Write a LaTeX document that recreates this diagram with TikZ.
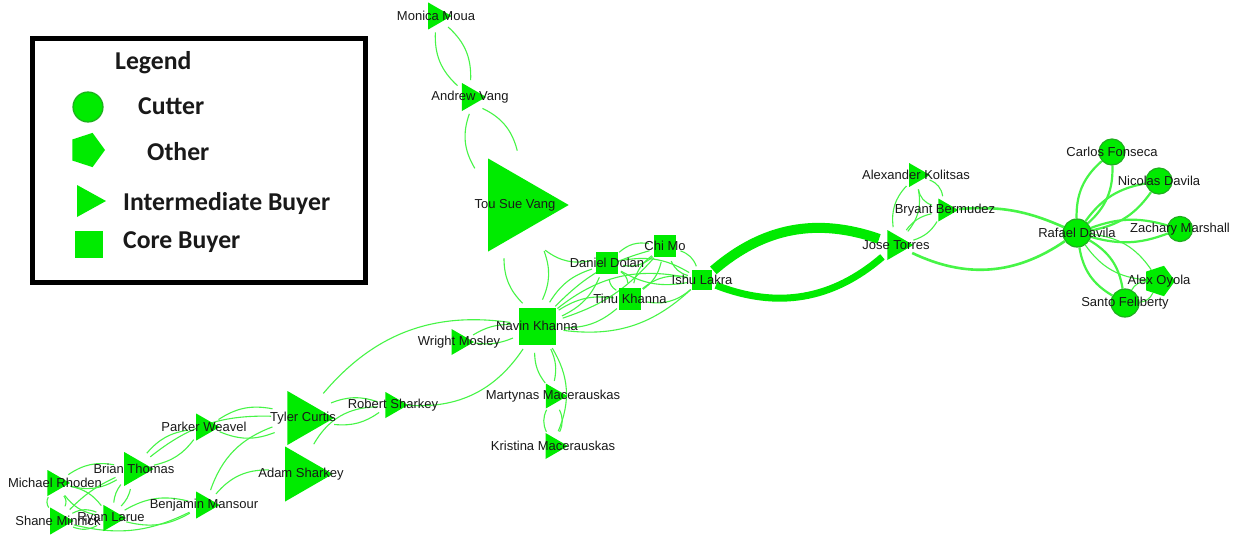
\documentclass[tikz,border=0pt]{standalone}
\usepackage{fontspec}
\setmainfont{Liberation Sans}
\newfontfamily\legendfont{Carlito}
\usetikzlibrary{shapes.geometric}
\definecolor{nodegreen}{RGB}{0,235,0}
\definecolor{edgegreen}{RGB}{70,245,70}
\definecolor{rimgreen}{RGB}{30,175,30}
\definecolor{labelgray}{RGB}{25,25,25}
\pgfdeclarelayer{edges}
\pgfdeclarelayer{labels}
\pgfsetlayers{edges,main,labels}
\tikzset{
  lbl/.style={font=\fontsize{13}{14}\selectfont, text=labelgray, inner sep=0pt},
  legtxt/.style={font=\legendfont\bfseries\fontsize{25.7}{28}\selectfont, text=labelgray, inner sep=0pt, anchor=base west},
  % intermediate buyer: right-pointing triangle of height #1, centred on its centroid
  tri/.style={circle, inner sep=0pt, minimum size={1.1547*#1+1},
    path picture={\fill[nodegreen]
      ([xshift=0.57735*#1]path picture bounding box.center) --
      ([xshift=-0.288675*#1,yshift=0.5*#1]path picture bounding box.center) --
      ([xshift=-0.288675*#1,yshift=-0.5*#1]path picture bounding box.center) -- cycle;}},
  % core buyer: square of side #1
  sq/.style={circle, inner sep=0pt, minimum size={1.4142*#1+1},
    path picture={\fill[nodegreen]
      ([xshift=-0.5*#1,yshift=-0.5*#1]path picture bounding box.center) rectangle
      ([xshift=0.5*#1,yshift=0.5*#1]path picture bounding box.center);}},
  % cutter: circle of diameter #1
  cut/.style={circle, inner sep=0pt, minimum size=#1, fill=nodegreen, draw=rimgreen, line width=1.2pt},
  % other: pentagon
  pent/.style={regular polygon, regular polygon sides=5, shape border rotate=-90, inner sep=0pt, minimum size=#1, fill=nodegreen},
  edge/.style={draw=edgegreen, line width=1.1pt},
  heavy/.style={draw=edgegreen, line width=2.2pt},
}
\newcommand\gnode[4]{%
  \node[#1] (#2) at (#3) {};
  \begin{pgfonlayer}{labels}\node[lbl] (#2-t) at (#2.center) {#4};\end{pgfonlayer}}
\newcommand\edgepair[4][edge]{%
  \draw[#1] (#2) to[bend left=#4] (#3);
  \draw[#1] (#2) to[bend right=#4] (#3);}
\begin{document}
\begin{tikzpicture}[x=1pt,y=-1pt]
\useasboundingbox (0,0) rectangle (1239,535);
\begin{pgfonlayer}{edges}
  \fill[white] (0,0) rectangle (1239,535);
\end{pgfonlayer}

% ---- legend ----
\draw[line width=5pt] (32,39) rectangle (365,282);
\node[legtxt] (lg-title) at (115,70) {Legend};
\node[circle, inner sep=0pt, minimum size=30pt, fill=nodegreen, draw=rimgreen, line width=1.2pt] (lg-cut) at (88,107) {};
\node[legtxt] (lg-cut-t) at (138,114) {Cutter};
\node[pent=36] (lg-oth) at (87,150) {};
\node[legtxt] (lg-oth-t) at (147,160.5) {Other};
\fill[nodegreen] (77,185) -- (106,201) -- (77,217) -- cycle;
\node[legtxt] (lg-int-t) at (123,210) {Intermediate Buyer};
\fill[nodegreen] (75,231) rectangle (103,258);
\node[legtxt] (lg-core-t) at (123,248) {Core Buyer};

% ---- intermediate buyers ----
\gnode{tri=27}{mm}{436,16}{Monica Moua}
\gnode{tri=28}{av}{470,97}{Andrew Vang}
\gnode{tri=93}{tsv}{515,205}{Tou Sue Vang}
\gnode{tri=24}{ak}{916,175}{Alexander Kolitsas}
\gnode{tri=23}{bb}{945,210}{Bryant Bermudez}
\gnode{tri=30}{jt}{896,245}{Jose Torres}
\gnode{tri=26}{wm}{459,342}{Wright Mosley}
\gnode{tri=26}{rs}{393,405}{Robert Sharkey}
\gnode{tri=25}{mac}{553,396}{Martynas Macerauskas}
\gnode{tri=26}{km}{553,446}{Kristina Macerauskas}
\gnode{tri=54}{tc}{303,418}{Tyler Curtis}
\gnode{tri=55}{as}{301,474}{Adam Sharkey}
\gnode{tri=27}{pw}{204,427}{Parker Weavel}
\gnode{tri=34}{bt}{134,469}{Brian Thomas}
\gnode{tri=27}{bm}{204,505}{Benjamin Mansour}
\gnode{tri=26}{mr}{55,483}{Michael Rhoden}
\gnode{tri=27}{sm}{58,521}{Shane Minnick}
\gnode{tri=26}{rl}{111,518}{Ryan Larue}

% ---- core buyers ----
\gnode{sq=37}{nk}{537,326}{Navin Khanna}
\gnode{sq=22}{dd}{607,263}{Daniel Dolan}
\gnode{sq=22}{cm}{665,246}{Chi Mo}
\gnode{sq=22}{tk}{630,299}{Tinu Khanna}
\gnode{sq=20}{il}{702,280}{Ishu Lakra}

% ---- cutters and other ----
\gnode{pent=32}{ao}{1159,281}{Alex Oyola}
\gnode{cut=28}{rd}{1077,233}{Rafael Davila}
\gnode{cut=26}{cf}{1112,152}{Carlos Fonseca}
\gnode{cut=26}{nd}{1159,181}{Nicolas Davila}
\gnode{cut=25}{zm}{1180,229}{Zachary Marshall}
\gnode{cut=28}{sf}{1125,303}{Santo Feliberty}

% ---- ties ----
\begin{pgfonlayer}{edges}
  % upper chain
  \edgepair{mm}{av}{25}
  \edgepair{av}{tsv}{25}
  \edgepair{tsv}{nk}{22}
  \draw[edge] (tsv) to[bend right=24] (dd);
  % core group
  \edgepair{nk}{dd}{20}
  \edgepair{nk}{cm}{15}
  \edgepair{nk}{tk}{20}
  \edgepair{nk}{il}{25}
  \edgepair{dd}{cm}{25}
  \edgepair{dd}{tk}{25}
  \edgepair{dd}{il}{20}
  \edgepair{cm}{tk}{20}
  \edgepair{cm}{il}{25}
  \edgepair{tk}{il}{25}
  \edgepair{nk}{wm}{15}
  \draw[edge] (nk) to[bend right=29] (tc);
  \draw[edge] (nk) to[bend left=30] (rs);
  \edgepair{nk}{mac}{18}
  \draw[edge] (nk) to[bend left=27] (km);
  \edgepair{mac}{km}{25}
  % lower left group
  \edgepair{rs}{tc}{20}
  \draw[edge] (rs) to[bend right=30] (as);
  \edgepair{tc}{pw}{22}
  \edgepair{bt}{pw}{20}
  \draw[edge] (bt) to[bend left=20] (tc);
  \draw[edge] (bm) to[bend left=25] (tc);
  \draw[edge] (bm) to[bend left=25] (as);
  \edgepair{bm}{rl}{22}
  \draw[edge] (sm) to[bend right=20] (bm);
  \edgepair{mr}{bt}{22}
  \edgepair{mr}{sm}{30}
  \edgepair{mr}{rl}{20}
  \edgepair{sm}{rl}{25}
  \draw[edge] (sm) to[bend left=10] (bt);
  \edgepair{rl}{bt}{15}
  % supply line
  \draw[draw=nodegreen, line width=10pt] (il) to[bend left=30] (jt);
  \draw[draw=nodegreen, line width=7pt] (il) to[bend right=31] (jt);
  \edgepair{jt}{ak}{25}
  \edgepair{jt}{bb}{20}
  \edgepair{ak}{bb}{30}
  \draw[draw=edgegreen, line width=2.6pt] (bb) to[bend left=14] (rd);
  \draw[draw=edgegreen, line width=2.6pt] (jt) to[bend right=30] (rd);
  % cutters
  \edgepair[heavy]{rd}{cf}{25}
  \edgepair[heavy]{rd}{nd}{22}
  \edgepair[heavy]{rd}{zm}{18}
  \edgepair[edge]{rd}{ao}{25}
  \edgepair[heavy]{rd}{sf}{25}
  \edgepair[edge]{sf}{ao}{30}
\end{pgfonlayer}
\end{tikzpicture}
\end{document}
